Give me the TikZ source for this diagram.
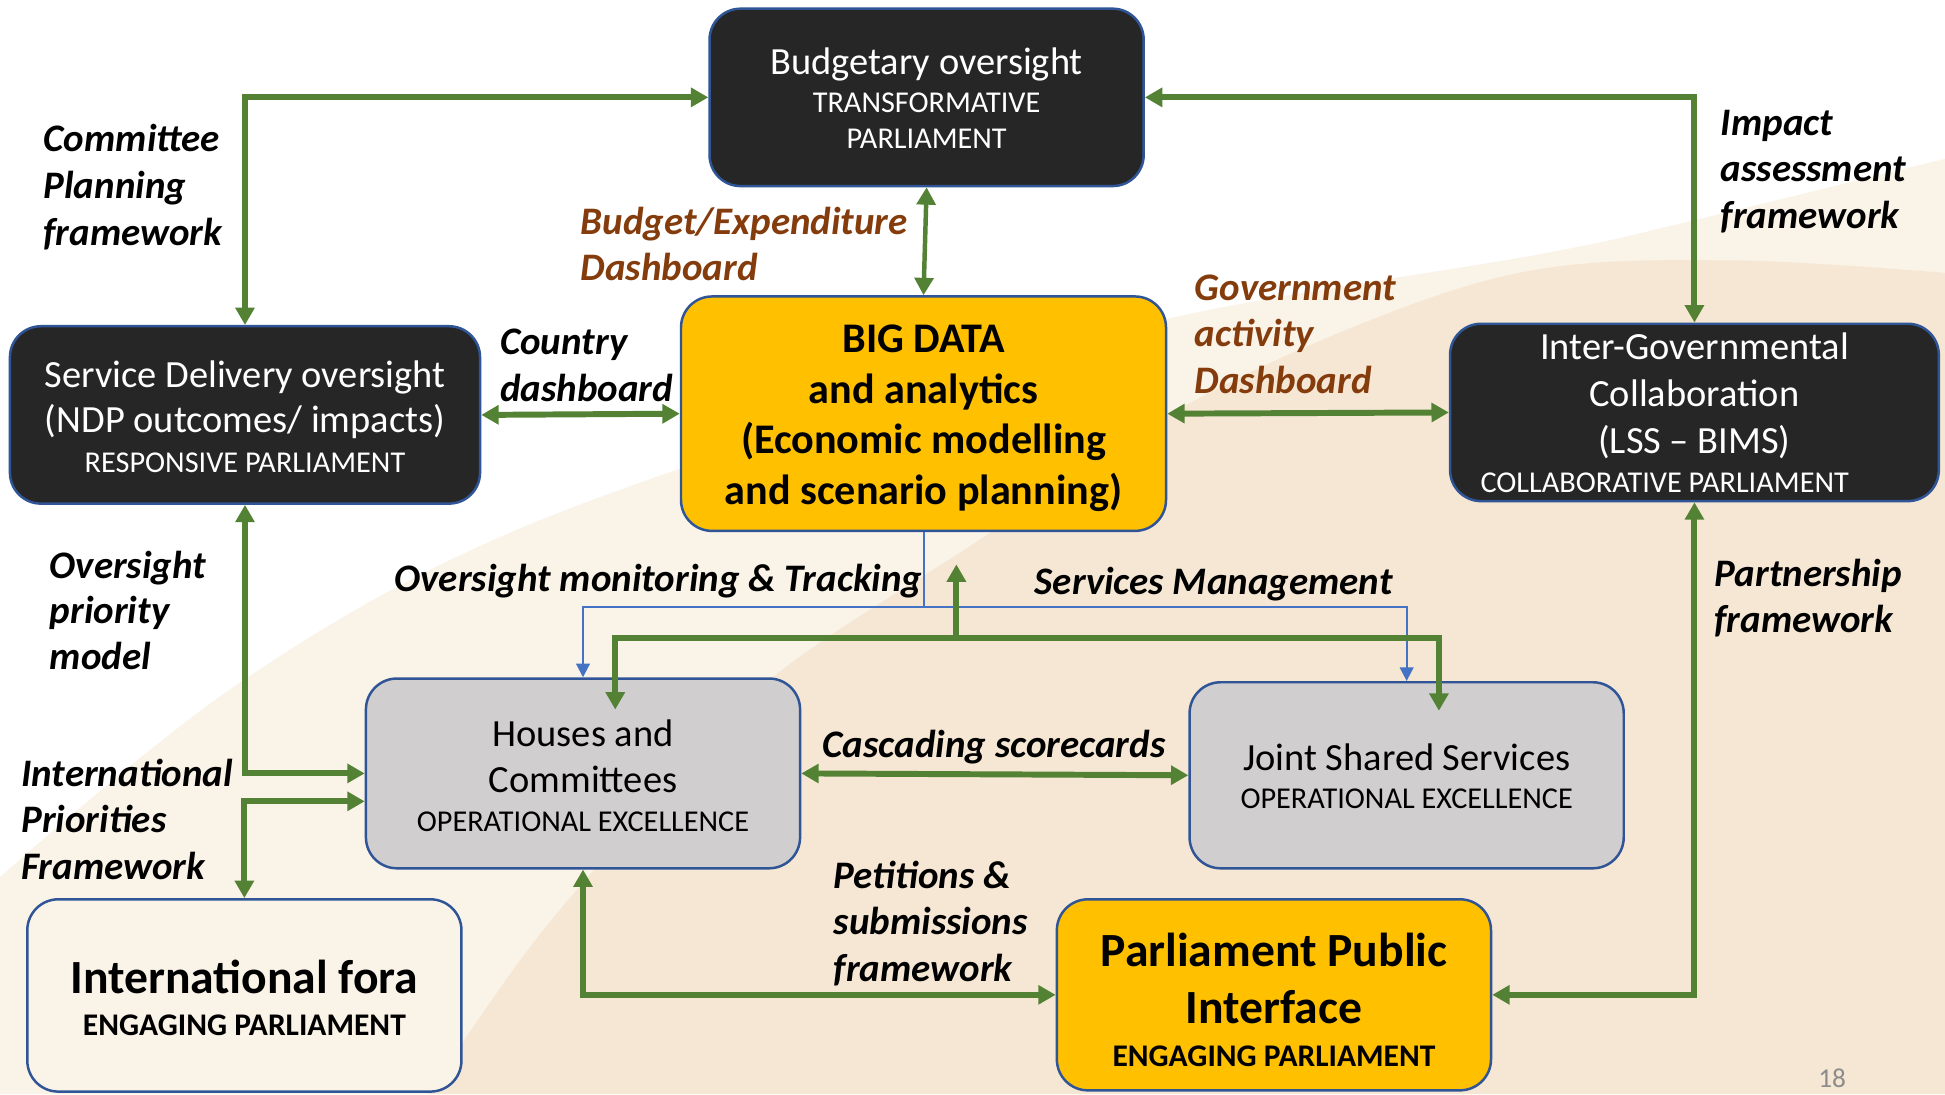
\documentclass[tikz,border=0pt]{standalone}
\usepackage{fontspec}
\setmainfont{Carlito}
\usetikzlibrary{arrows.meta}
\definecolor{boxdark}{HTML}{262626}
\definecolor{boxblue}{HTML}{2F5597}
\definecolor{gold}{HTML}{FFC000}
\definecolor{boxgray}{HTML}{D0CECE}
\definecolor{creamL}{HTML}{FAF3E8}
\definecolor{creamD}{HTML}{F6E7D4}
\definecolor{arrowgreen}{HTML}{548235}
\definecolor{lineblue}{HTML}{4472C4}
\definecolor{brownlbl}{HTML}{843C0C}
\definecolor{pagegray}{HTML}{8C8C8C}
\tikzset{
  box/.style={rectangle, rounded corners=25pt, draw=boxblue, line width=2pt, inner sep=0pt},
  darkbox/.style={box, fill=boxdark},
  goldbox/.style={box, fill=gold},
  graybox/.style={box, fill=boxgray},
  creambox/.style={box, fill=creamL},
  main/.style={font=\fontsize{31}{37}\selectfont, anchor=base, inner sep=0pt},
  sub/.style={font=\fontsize{24.4}{29}\selectfont, anchor=base, inner sep=0pt},
  bigtxt/.style={font=\fontsize{34}{41}\selectfont\bfseries, anchor=base, inner sep=0pt},
  titletxt/.style={font=\fontsize{38.4}{46}\selectfont\bfseries, anchor=base, inner sep=0pt},
  engtxt/.style={font=\fontsize{25.4}{30}\selectfont\bfseries, anchor=base, inner sep=0pt},
  wtxt/.style={text=white},
  lbl/.style={font=\fontsize{31.4}{37}\selectfont\bfseries\itshape, anchor=base west, inner sep=0pt},
  brown/.style={text=brownlbl},
  gline/.style={draw=arrowgreen, line width=4.8pt},
  bline/.style={draw=lineblue, line width=1.6pt},
  btip/.style={-{Triangle[length=11pt,width=11pt]}}
}
\begin{document}
\begin{tikzpicture}[x=1pt,y=-1pt,>={Triangle[length=14pt,width=15pt]}]
\useasboundingbox (0,0) rectangle (1568,882);
\clip (0,0) rectangle (1568,882);
% background
\fill[white] (0,0) rectangle (1568,882);
\fill[creamL] plot[smooth, tension=0.6] coordinates {(0,707) (188,554) (403,433) (700,328) (941,257) (1241,205) (1364,178) (1568,128)} -- (1568,882) -- (0,882) -- cycle;
\fill[creamD] plot[smooth, tension=0.6] coordinates {(345,882) (430,760) (525,650) (623,546) (790,435) (941,335) (1100,260) (1241,217) (1400,210) (1568,220)} -- (1568,882) -- cycle;

% boxes
\node[darkbox, minimum width=350pt, minimum height=143pt] (budget) at (747,78.5) {};
\node[darkbox, minimum width=379pt, minimum height=143pt] (sd) at (197.5,334.5) {};
\node[goldbox, minimum width=391pt, minimum height=189pt] (big) at (744.5,333.5) {};
\node[darkbox, minimum width=394pt, minimum height=143pt] (ig) at (1366,332.5) {};
\node[graybox, minimum width=350pt, minimum height=153pt] (houses) at (470,623.5) {};
\node[graybox, minimum width=350pt, minimum height=150pt] (jss) at (1134,625) {};
\node[creambox, minimum width=350pt, minimum height=155pt] (fora) at (197,802.5) {};
\node[goldbox, minimum width=350pt, minimum height=154pt] (ppi) at (1027,802) {};

% box texts
\node[main, wtxt] (budget1) at (747,60) {Budgetary oversight};
\node[sub, wtxt] (budget2) at (747,91) {TRANSFORMATIVE};
\node[sub, wtxt] (budget3) at (747,120) {PARLIAMENT};

\node[main, wtxt] (sd1) at (197.5,312) {Service Delivery oversight};
\node[main, wtxt] (sd2) at (197.5,349) {(NDP outcomes/ impacts)};
\node[sub, wtxt] (sd3) at (197.5,381) {RESPONSIVE PARLIAMENT};

\node[bigtxt] (big1) at (744.5,284) {BIG DATA};
\node[bigtxt] (big2) at (744.5,325) {and analytics};
\node[bigtxt] (big3) at (744.5,366) {(Economic modelling};
\node[bigtxt] (big4) at (744.5,407) {and scenario planning)};

\node[main, wtxt] (ig1) at (1366,290) {Inter-Governmental};
\node[main, wtxt] (ig2) at (1366,328) {Collaboration};
\node[main, wtxt] (ig3) at (1366,366) {(LSS – BIMS)};
\node[sub, wtxt] (ig4) at (1342,397) {COLLABORATIVE PARLIAMENT};

\node[main] (houses1) at (470,602) {Houses and};
\node[main] (houses2) at (470,639) {Committees};
\node[sub] (houses3) at (470,670) {OPERATIONAL EXCELLENCE};

\node[main] (jss1) at (1134,621) {Joint Shared Services};
\node[sub] (jss2) at (1134,652) {OPERATIONAL EXCELLENCE};

\node[titletxt] (fora1) at (197,801) {International fora};
\node[engtxt] (fora2) at (197,835) {ENGAGING PARLIAMENT};

\node[titletxt] (ppi1) at (1027,779) {Parliament Public};
\node[titletxt] (ppi2) at (1027,825) {Interface};
\node[engtxt] (ppi3) at (1027,860) {ENGAGING PARLIAMENT};

% labels
\node[lbl] (l1) at (35,122) {Committee};
\node[lbl] (l2) at (35,160) {Planning};
\node[lbl] (l3) at (35,198) {framework};
\node[lbl, brown] (l4) at (468,189) {Budget/Expenditure};
\node[lbl, brown] (l5) at (468,226) {Dashboard};
\node[lbl] (l6) at (1387,109) {Impact};
\node[lbl] (l7) at (1387,146) {assessment};
\node[lbl] (l8) at (1387,184) {framework};
\node[lbl] (l9) at (403,286) {Country};
\node[lbl] (l10) at (403,324) {dashboard};
\node[lbl, brown] (l11) at (963,242) {Government};
\node[lbl, brown] (l12) at (963,279) {activity};
\node[lbl, brown] (l13) at (963,317) {Dashboard};
\node[lbl] (l14) at (40,466) {Oversight};
\node[lbl] (l15) at (40,503) {priority};
\node[lbl] (l16) at (40,540) {model};
\node[lbl] (l17) at (318,477) {Oversight monitoring \& Tracking};
\node[lbl] (l18) at (834,479) {Services Management};
\node[lbl] (l19) at (1382,473) {Partnership};
\node[lbl] (l20) at (1382,510) {framework};
\node[lbl] (l21) at (17,634) {International};
\node[lbl] (l22) at (17,671) {Priorities};
\node[lbl] (l23) at (17,709) {Framework};
\node[lbl] (l24) at (663,611) {Cascading scorecards};
\node[lbl] (l25) at (672,716) {Petitions \&};
\node[lbl] (l26) at (672,753) {submissions};
\node[lbl] (l27) at (672,791) {framework};

\node[font=\fontsize{22}{26}\selectfont, text=pagegray, anchor=base, inner sep=0pt] (pg) at (1477,877) {18};

% connectors
\draw[gline,<->] (sd.north) |- (budget.west);
\draw[gline,<->] (budget.east) -| (ig.north);
\draw[gline,<->,line width=3.6pt] (budget.south) -- (big.north);
\draw[gline,<->] (sd.east) -- (big.west);
\draw[gline,<->] (big.east) -- (ig.west);
\draw[gline,<->] (sd.south) |- (houses.west);
\draw[gline,<->] (fora.north) |- ([yshift=-22.5pt]houses.west);
\draw[gline,<->] (houses.south) |- (ppi.west);
\draw[gline,<->] (ig.south) |- (ppi.east);
\draw[gline,<->] (houses.east) -- (jss.west);

\draw[bline,btip] (big.south) -- ++(0,60) -| (houses.north);
\draw[bline,btip] (big.south) -- ++(0,60) -| (jss.north);

\coordinate (gj) at (771,514);
\coordinate (gup) at (771,455);
\coordinate (gh) at (496,572);
\coordinate (gs) at (1160,573);
\draw[gline,->] (gj) -- (gup);
\draw[gline,->] (gj) -| (gh);
\draw[gline,->] (gj) -| (gs);
\end{tikzpicture}
\end{document}
